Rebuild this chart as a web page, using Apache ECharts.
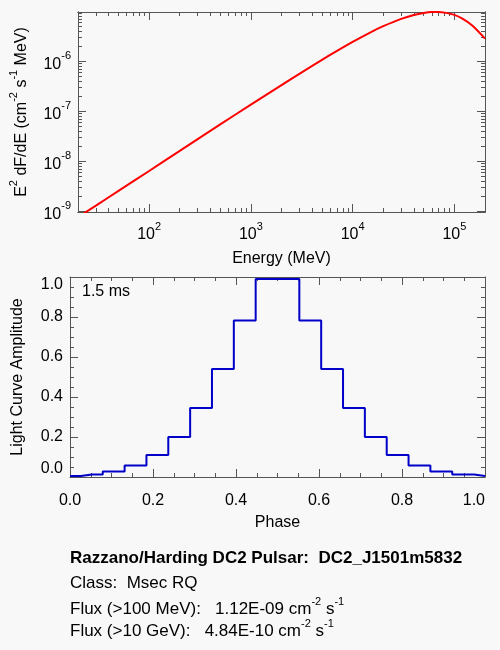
<!DOCTYPE html>
<html>
<head>
<meta charset="utf-8">
<title>DC2_J1501m5832</title>
<script src="https://cdn.jsdelivr.net/npm/echarts@6/dist/echarts.min.js"></script>
<style>
    html, body { margin: 0; padding: 0; background: #f8f8f8; }
    #chart { width: 500px; height: 650px; }
</style>
</head>
<body>
<div id="chart"></div>
<script>
'use strict';

// spectrum
var energy = [20, 30, 50, 100, 200, 500, 1000, 2000, 5000, 10000, 15000, 20000,
    30000, 40000, 50000, 60000, 70000, 80000, 100000, 120000, 150000, 200000];
var e2dfde = [7.6e-10, 1.30e-9, 2.57e-9, 6.4e-9, 1.62e-8, 5.5e-8, 1.36e-7, 3.35e-7,
    1.07e-6, 2.44e-6, 3.81e-6, 5.05e-6, 7.08e-6, 8.47e-6, 9.29e-6, 9.66e-6, 9.68e-6,
    9.42e-6, 8.5e-6, 7.16e-6, 5.22e-6, 2.85e-6];

// light curve, one value per phase bin
var phase = [0, 0.0526, 0.1053, 0.1579, 0.2105, 0.2632, 0.3158, 0.3684, 0.4211, 0.4737,
    0.5263, 0.5789, 0.6316, 0.6842, 0.7368, 0.7895, 0.8421, 0.8947, 0.9474, 1.0];
var amplitude = [0.005, 0.013, 0.027, 0.058, 0.11, 0.2, 0.345, 0.54, 0.783, 0.99,
    0.99, 0.783, 0.54, 0.345, 0.2, 0.11, 0.058, 0.027, 0.013, 0.005];

// tick labels
var energyTicks = [100, 1000, 10000, 100000];
var fluxTicks = [1e-9, 1e-8, 1e-7, 1e-6];

var sourceTitle = 'Razzano/Harding DC2 Pulsar:  DC2_J1501m5832';
var sourceClass = 'Class:  Msec RQ';
var flux100 = ['Flux (>100 MeV):   1.12E-09 cm', '-2', ' s', '-1'];
var flux10 = ['Flux (>10 GeV):   4.84E-10 cm', '-2', ' s', '-1'];
var periodText = '1.5 ms';

var FONT = "'Liberation Sans', Arial, Helvetica, sans-serif";
var AXIS_COLOR = '#555555';

// 2..9 x 10^n between two decades, for the little log ticks
function minorLog(fromExp, toExp) {
    var out = [];
    for (var e = fromExp; e <= toExp; e++) {
        for (var k = 2; k <= 9; k++) {
            out.push(k * Math.pow(10, e));
        }
    }
    return out;
}
var energyMinor = minorLog(1, 5);
var fluxMinor = minorLog(-10, -6);

var supRich = {
    b: { fontFamily: FONT, fontSize: 16, color: '#000', lineHeight: 22, verticalAlign: 'bottom' },
    s: { fontFamily: FONT, fontSize: 11, color: '#000', lineHeight: 22, verticalAlign: 'top' }
};

function powLabel(v) {
    return '{b|10}{s|' + Math.round(Math.log(v) / Math.LN10) + '}';
}

function logAxis(gridIndex, position, min, max, ticks, len, withLabels) {
    var ax = {
        type: 'log',
        gridIndex: gridIndex,
        position: position,
        min: min,
        max: max,
        axisLine: { show: true, onZero: false, lineStyle: { color: AXIS_COLOR, width: 1 } },
        axisTick: { show: true, inside: true, length: len, customValues: ticks, lineStyle: { color: AXIS_COLOR } },
        axisLabel: { show: false },
        splitLine: { show: false },
        minorTick: { show: false }
    };
    if (withLabels) {
        ax.axisLabel = {
            show: true,
            customValues: ticks,
            formatter: powLabel,
            rich: supRich,
            margin: position === 'bottom' ? 9 : 7
        };
    }
    return ax;
}

function linAxis(position, withLabels) {
    return {
        type: 'value',
        gridIndex: 1,
        position: position,
        min: 0,
        max: 1,
        interval: 0.2,
        axisLine: { show: true, onZero: false, lineStyle: { color: AXIS_COLOR, width: 1 } },
        axisTick: { show: true, inside: true, length: 8, lineStyle: { color: AXIS_COLOR } },
        minorTick: { show: true, splitNumber: 4, length: 4, lineStyle: { color: AXIS_COLOR } },
        axisLabel: {
            show: withLabels,
            fontFamily: FONT,
            fontSize: 16,
            color: '#000',
            margin: position === 'bottom' ? 16 : 7,
            formatter: function (v) { return v.toFixed(1); }
        },
        splitLine: { show: false }
    };
}

var xTop = [
    logAxis(0, 'bottom', 20, 200000, energyTicks, 8, true),
    logAxis(0, 'bottom', 20, 200000, energyMinor, 4, false),
    logAxis(0, 'top', 20, 200000, energyTicks, 8, false),
    logAxis(0, 'top', 20, 200000, energyMinor, 4, false)
];
xTop[0].name = 'Energy (MeV)';
xTop[0].nameLocation = 'middle';
xTop[0].nameGap = 39;
xTop[0].nameTextStyle = { fontFamily: FONT, fontSize: 16, color: '#000' };

var yTop = [
    logAxis(0, 'left', 9.7e-10, 9.7e-6, fluxTicks, 8, true),
    logAxis(0, 'left', 9.7e-10, 9.7e-6, fluxMinor, 4, false),
    logAxis(0, 'right', 9.7e-10, 9.7e-6, fluxTicks, 8, false),
    logAxis(0, 'right', 9.7e-10, 9.7e-6, fluxMinor, 4, false)
];
yTop[0].name = '{t|E}{s|2}{t| dF/dE (cm}{s|-2}{t| s}{s|-1}{t| MeV)}';
yTop[0].nameLocation = 'middle';
yTop[0].nameRotate = 90;
yTop[0].nameGap = 48;
yTop[0].nameTextStyle = {
    rich: {
        t: { fontFamily: FONT, fontSize: 16, color: '#000', lineHeight: 22, verticalAlign: 'bottom' },
        s: { fontFamily: FONT, fontSize: 11, color: '#000', lineHeight: 22, verticalAlign: 'top' }
    }
};

var xBot = [linAxis('bottom', true), linAxis('top', false)];
xBot[0].axisLabel.alignMaxLabel = 'right';
xBot[0].name = 'Phase';
xBot[0].nameLocation = 'middle';
xBot[0].nameGap = 38;
xBot[0].nameTextStyle = { fontFamily: FONT, fontSize: 16, color: '#000' };

var yBot = [linAxis('left', true), linAxis('right', false)];
yBot[0].axisLabel.verticalAlignMaxLabel = 'top';
yBot[0].axisLabel.verticalAlignMinLabel = 'bottom';
yBot[0].name = 'Light Curve Amplitude';
yBot[0].nameLocation = 'middle';
yBot[0].nameRotate = 90;
yBot[0].nameGap = 44;
yBot[0].nameTextStyle = { fontFamily: FONT, fontSize: 16, color: '#000' };

var spectrumData = energy.map(function (e, i) { return [e, e2dfde[i]]; });
var curveData = phase.map(function (p, i) { return [p, amplitude[i]]; });

var superRich = {
    t: { fontFamily: FONT, fontSize: 17, fill: '#000', lineHeight: 22, verticalAlign: 'bottom' },
    s: { fontFamily: FONT, fontSize: 11, fill: '#000', lineHeight: 22, verticalAlign: 'top' }
};

function supText(parts) {
    return '{t|' + parts[0] + '}{s|' + parts[1] + '}{t|' + parts[2] + '}{s|' + parts[3] + '}';
}

var chart = echarts.init(document.getElementById('chart'));

var option = {
    animation: false,
    backgroundColor: '#f8f8f8',
    grid: [
        { left: 70, top: 12, width: 415, height: 200 },
        { left: 70, top: 277, width: 415, height: 200 }
    ],
    xAxis: xTop.concat(xBot),
    yAxis: yTop.concat(yBot),
    series: [
        {
            name: 'spectrum',
            type: 'line',
            xAxisIndex: 0,
            yAxisIndex: 0,
            data: spectrumData,
            showSymbol: false,
            smooth: 0.3,
            clip: true,
            lineStyle: { color: '#ff0000', width: 2 }
        },
        {
            name: 'light curve',
            type: 'line',
            xAxisIndex: 4,
            yAxisIndex: 4,
            data: curveData,
            step: 'middle',
            showSymbol: false,
            lineStyle: { color: '#0000c8', width: 2 }
        }
    ],
    graphic: [
        { type: 'text', left: 82, top: 284, style: { text: periodText, font: '16px ' + FONT, fill: '#000' } },
        { type: 'text', left: 70, top: 550, style: { text: sourceTitle, font: 'bold 17px ' + FONT, fill: '#000' } },
        { type: 'text', left: 70, top: 575, style: { text: sourceClass, font: '17px ' + FONT, fill: '#000' } },
        { type: 'text', left: 70, top: 596, style: { text: supText(flux100), rich: superRich } },
        { type: 'text', left: 70, top: 618, style: { text: supText(flux10), rich: superRich } }
    ]
};

chart.setOption(option);
</script>
</body>
</html>
